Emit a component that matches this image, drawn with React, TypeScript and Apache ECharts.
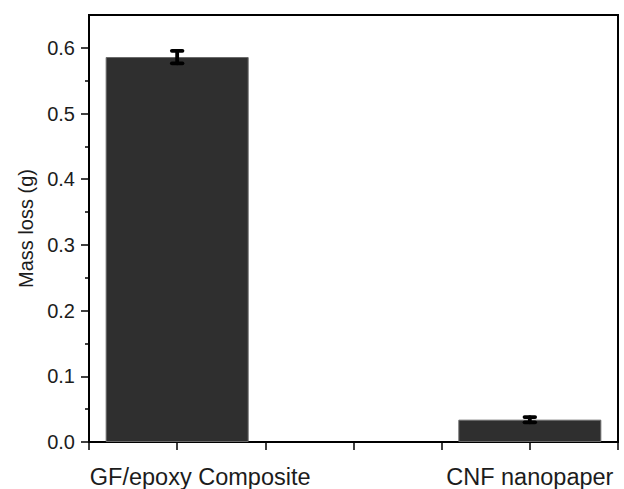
import React, { useEffect, useRef } from "react";
import * as echarts from "echarts";

const categories = ["GF/epoxy Composite", "CNF nanopaper"];
const xPositions = [1, 5];
const massLoss = [0.586, 0.034];
const errors = [0.0095, 0.004];
const yTicks = [0, 0.1, 0.2, 0.3, 0.4, 0.5, 0.6];
const yMinorTicks = [0.05, 0.15, 0.25, 0.35, 0.45, 0.55];

export default function App() {
  const ref = useRef<HTMLDivElement>(null);
  useEffect(() => {
    if (!ref.current) return;
    const chart = echarts.init(ref.current, null, { renderer: "svg" });
    const font = "'Liberation Sans', Arial, sans-serif";
    const textColor = "#1c1c1c";
    const barData = xPositions.map((x, i) => [x, massLoss[i]]);
    const errData = xPositions.map((x, i) => [x, massLoss[i], errors[i]]);
    chart.setOption({
      animation: false,
      backgroundColor: "#ffffff",
      grid: {
        left: 89,
        right: 6,
        top: 15,
        bottom: 46,
        show: true,
        borderColor: "#000",
        borderWidth: 2,
        backgroundColor: "transparent",
      },
      xAxis: {
        type: "value",
        min: 0,
        max: 6,
        interval: 1,
        axisLine: { show: true, lineStyle: { color: "#000", width: 2 } },
        axisTick: { show: true, inside: false, length: 8, lineStyle: { color: "#000", width: 1.5 } },
        splitLine: { show: false },
        axisLabel: {
          margin: 23,
          fontSize: 23.5,
          fontFamily: font,
          color: textColor,
          formatter: (v: number) => {
            const idx = xPositions.indexOf(Math.round(v));
            if (idx < 0 || Math.abs(v - xPositions[idx]) > 1e-6) return "";
            return idx === 0 ? "{a|" + categories[idx] + "}" : categories[idx];
          },
          rich: {
            a: {
              fontSize: 23.5,
              fontFamily: font,
              color: textColor,
              padding: [0, 0, 0, 46],
            },
          },
        },
      },
      yAxis: [
        {
          type: "value",
          min: 0,
          max: 0.65,
          name: "Mass loss (g)",
          nameLocation: "middle",
          nameGap: 53,
          nameTextStyle: { fontSize: 20, fontFamily: font, color: textColor },
          axisLine: { show: true, lineStyle: { color: "#000", width: 2 } },
          axisTick: {
            show: true,
            inside: false,
            length: 8,
            customValues: yTicks,
            lineStyle: { color: "#000", width: 1.5 },
          },
          splitLine: { show: false },
          axisLabel: {
            customValues: yTicks,
            margin: 14,
            fontSize: 20,
            fontFamily: font,
            color: textColor,
            formatter: (v: number) => v.toFixed(1),
          },
        },
        {
          type: "value",
          min: 0,
          max: 0.65,
          position: "left",
          axisLine: { show: false },
          axisTick: {
            show: true,
            inside: false,
            length: 4,
            customValues: yMinorTicks,
            lineStyle: { color: "#000", width: 1.5 },
          },
          axisLabel: { show: false },
          splitLine: { show: false },
        },
      ],
      series: [
        {
          type: "bar",
          data: barData,
          barWidth: 143,
          itemStyle: { color: "#2f2f2f", borderColor: "#6a6a6a", borderWidth: 1 },
        },
        {
          type: "custom",
          data: errData,
          z: 10,
          renderItem: (params: any, api: any) => {
            const x = api.value(0);
            const y = api.value(1);
            const e = api.value(2);
            const top = api.coord([x, y + e]);
            const bot = api.coord([x, y - e]);
            const hw = 5.3;
            const style = { stroke: "#000", lineWidth: 3.8, lineCap: "round" };
            return {
              type: "group",
              children: [
                { type: "line", shape: { x1: top[0], y1: top[1], x2: bot[0], y2: bot[1] }, style },
                { type: "line", shape: { x1: top[0] - hw, y1: top[1], x2: top[0] + hw, y2: top[1] }, style },
                { type: "line", shape: { x1: bot[0] - hw, y1: bot[1], x2: bot[0] + hw, y2: bot[1] }, style },
              ],
            };
          },
        },
      ],
    });
    return () => chart.dispose();
  }, []);
  return (
    <div
      ref={ref}
      style={{ position: "fixed", left: 0, top: 0, width: 624, height: 489, background: "#fff" }}
    />
  );
}
